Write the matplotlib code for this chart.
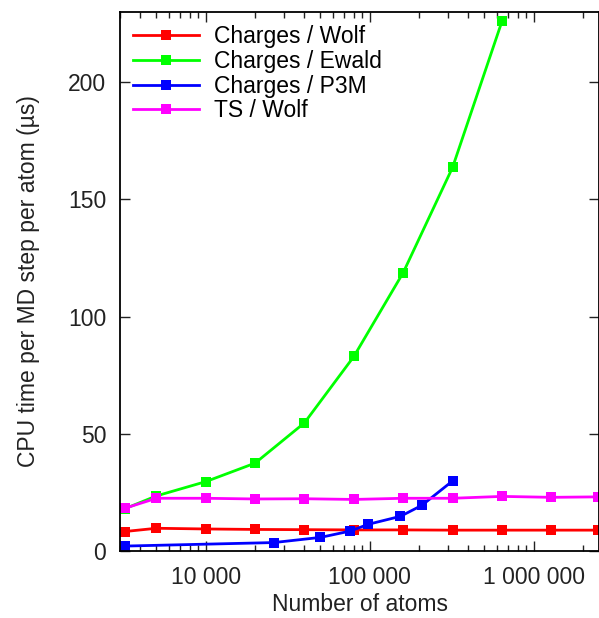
import matplotlib.pyplot as plt
from matplotlib.ticker import FixedLocator, FuncFormatter, LogLocator, NullFormatter

plt.rcParams['font.family'] = ['Liberation Sans', 'DejaVu Sans']

# timings, microseconds per atom per MD step
wolf_n = [3200, 5000, 10000, 20000, 40000, 80000, 160000, 320000, 640000, 1280000, 2450000]
wolf_t = [8.3, 9.7, 9.4, 9.2, 9.1, 9.0, 9.0, 8.9, 8.9, 8.9, 8.9]

ewald_n = [3200, 5000, 10000, 20000, 40000, 80000, 160000, 320000, 640000]
ewald_t = [18.0, 23.5, 29.6, 37.5, 54.7, 83.0, 118.8, 163.7, 226.0]

p3m_n = [3200, 26000, 50000, 76000, 98000, 154000, 208000, 320000]
p3m_t = [2.1, 3.6, 5.8, 8.5, 11.4, 14.8, 19.5, 29.9]

ts_n = [3200, 5000, 10000, 20000, 40000, 80000, 160000, 320000, 640000, 1280000, 2450000]
ts_t = [18.2, 22.5, 22.5, 22.2, 22.3, 22.0, 22.5, 22.5, 23.3, 22.9, 23.1]

x_ticks = [10000, 100000, 1000000]
y_ticks = [0, 50, 100, 150, 200]

fig = plt.figure(figsize=(5.99, 6.18), dpi=100)
ax = fig.add_axes([120 / 599, 67 / 618, 479 / 599, 539 / 618])

style = dict(marker='s', markersize=6.5, linewidth=2.0, markeredgewidth=0)
ax.plot(wolf_n, wolf_t, color='#ff0000', label='Charges / Wolf', **style)
ax.plot(ewald_n, ewald_t, color='#00ff00', label='Charges / Ewald', **style)
ax.plot(p3m_n, p3m_t, color='#0000ff', label='Charges / P3M', **style)
ax.plot(ts_n, ts_t, color='#ff00ff', label='TS / Wolf', **style)

ax.set_xscale('log')
ax.set_xlim(3000, 2500000)
ax.set_ylim(0, 230)

ax.xaxis.set_major_locator(FixedLocator(x_ticks))
ax.xaxis.set_major_formatter(FuncFormatter(lambda v, p: f'{int(v):,}'.replace(',', ' ')))
ax.xaxis.set_minor_locator(LogLocator(base=10, subs=range(2, 10)))
ax.xaxis.set_minor_formatter(NullFormatter())
ax.yaxis.set_major_locator(FixedLocator(y_ticks))

ax.tick_params(which='both', direction='in', top=True, right=True,
               labelsize=16.5, colors='#222222', width=1.0)
ax.tick_params(which='major', length=7, pad=11)
ax.tick_params(which='minor', length=4)
ax.tick_params(axis='y', pad=10)
for s in ax.spines.values():
    s.set_linewidth(1.3)

ax.set_xlabel('Number of atoms', fontsize=16.5, color='#222222', labelpad=3)
ax.set_ylabel('CPU time per MD step per atom (µs)', fontsize=16.5, color='#222222', labelpad=20)

ax.legend(loc='upper left', bbox_to_anchor=(0.027, 0.975), frameon=False,
          fontsize=16.5, handlelength=2.9, handletextpad=0.65, labelspacing=0.07,
          borderpad=0, borderaxespad=0)

fig.savefig('out.png', dpi=100)
